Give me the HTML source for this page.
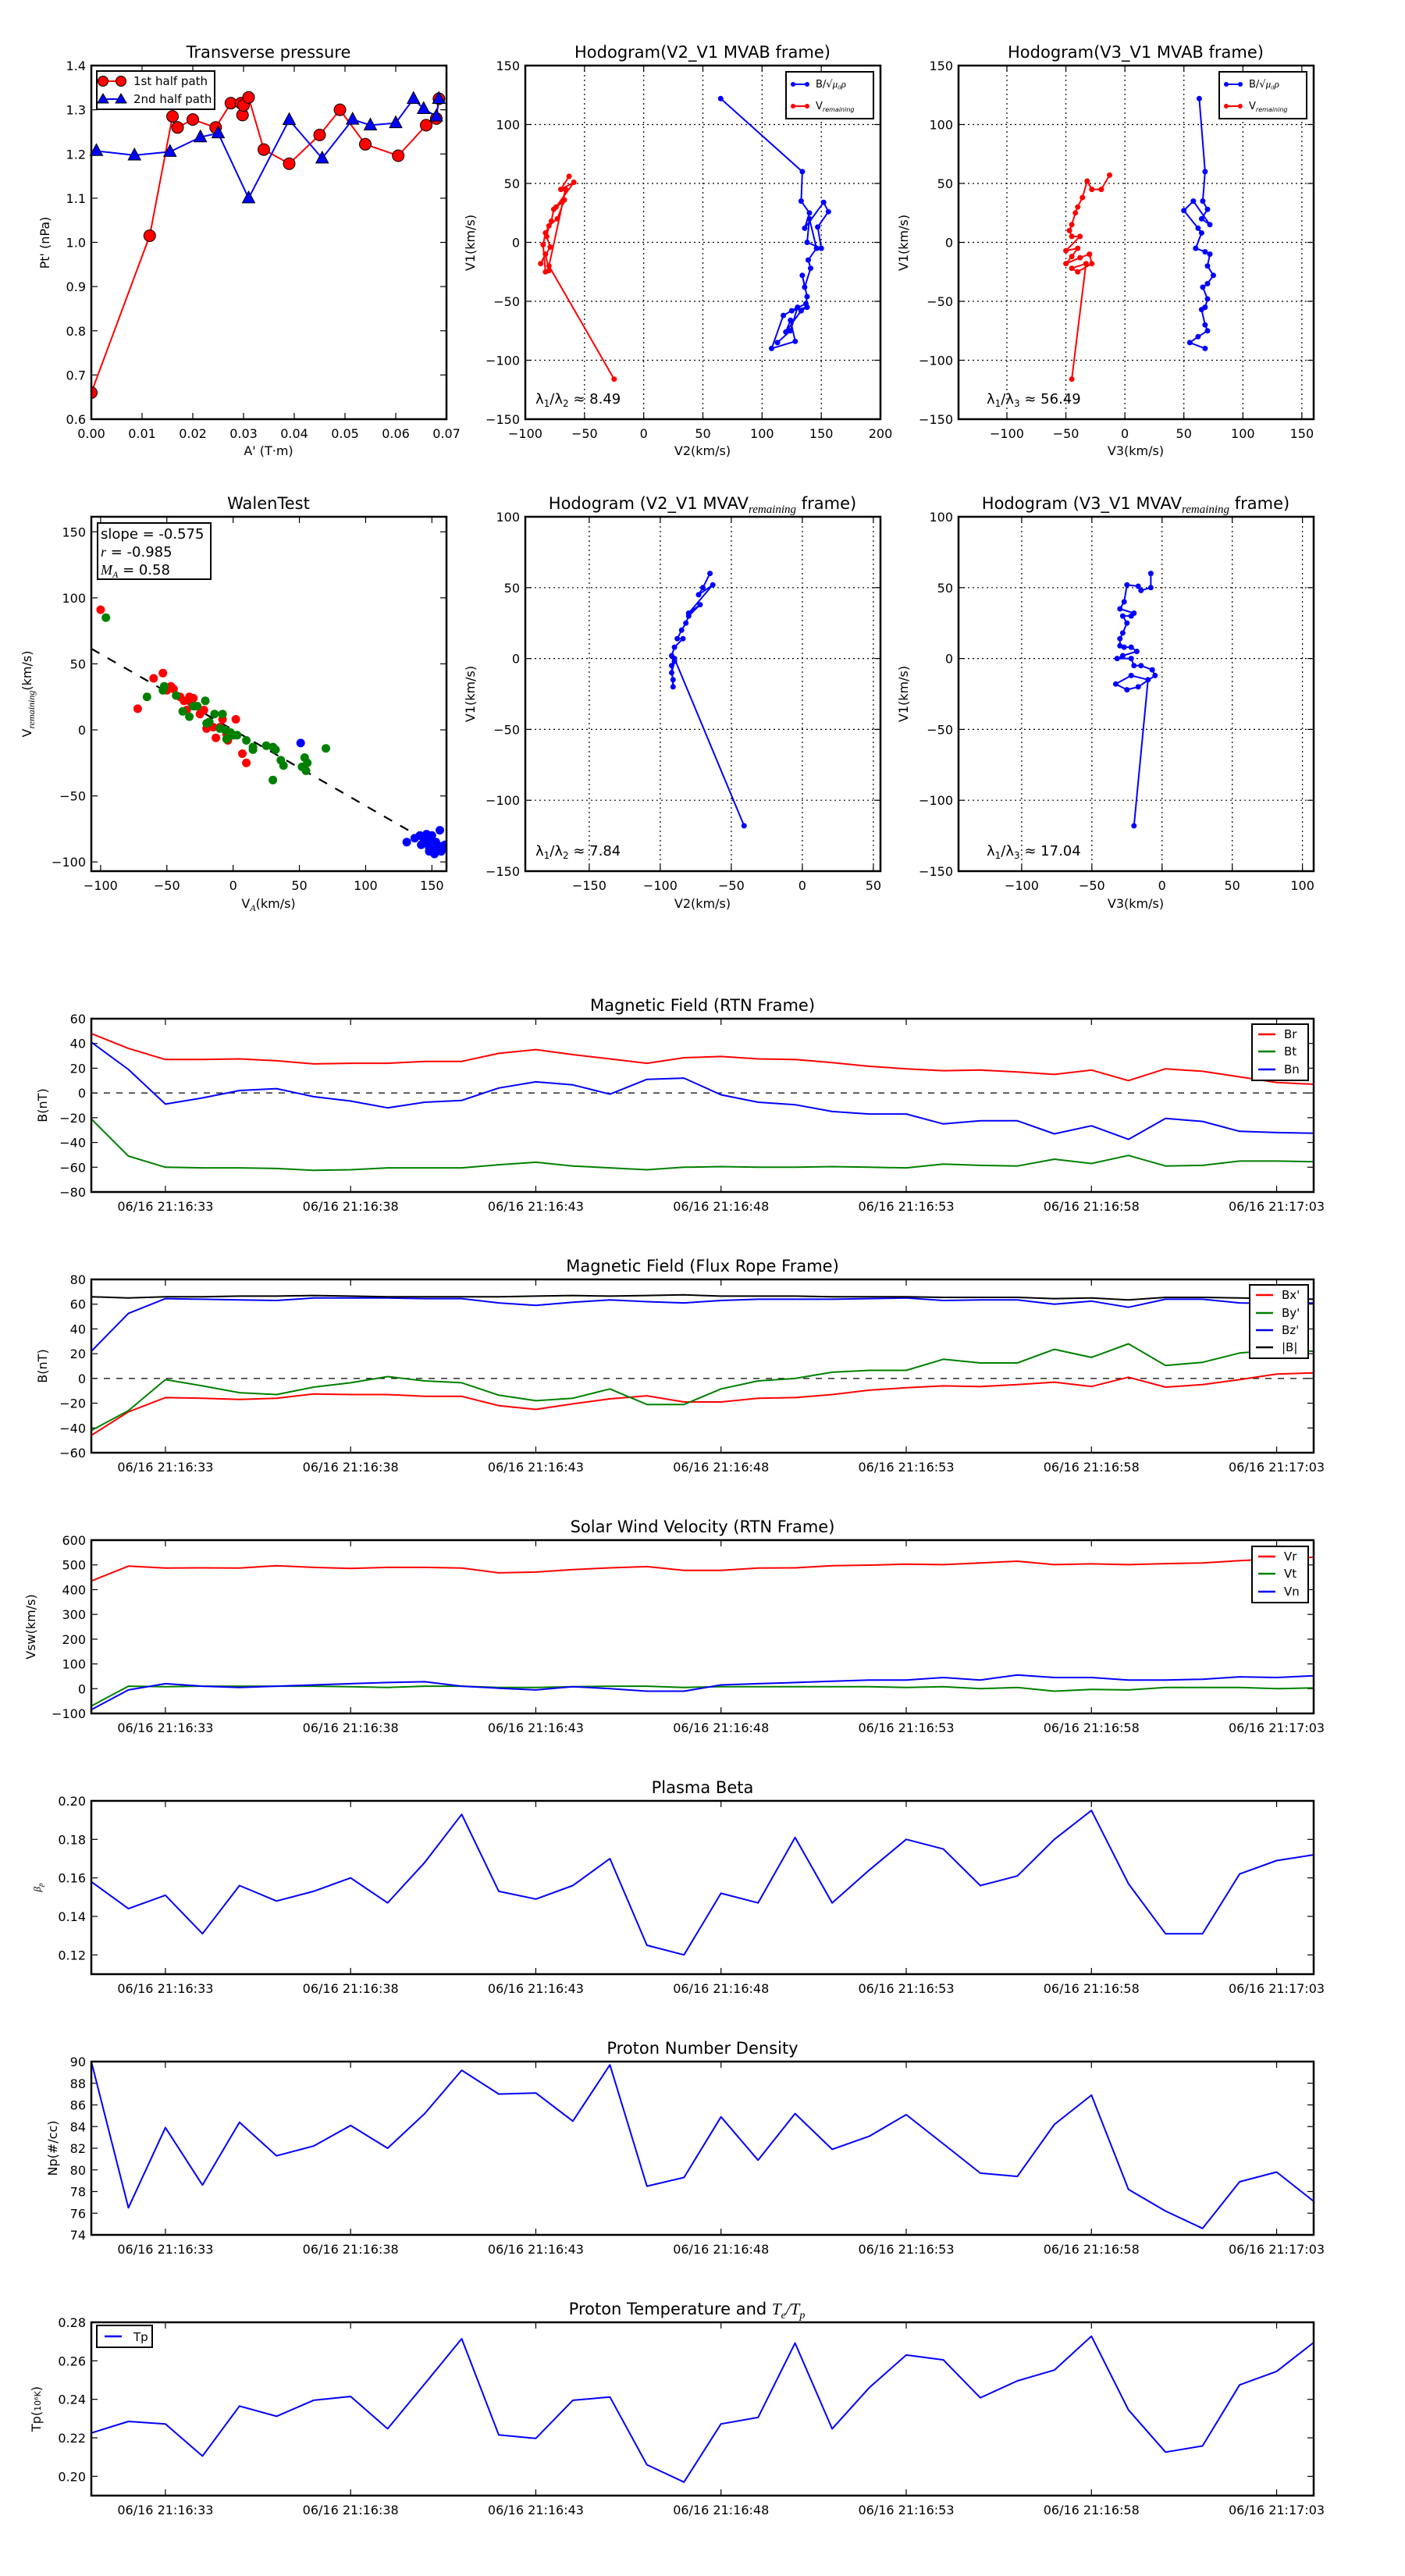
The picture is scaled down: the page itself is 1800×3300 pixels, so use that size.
<!DOCTYPE html>
<html><head><meta charset="utf-8">
<style>
html,body{margin:0;padding:0;background:#fff;}
svg{display:block;font-family:"DejaVu Sans","Liberation Sans",sans-serif;}
</style></head>
<body>
<svg id="s" xmlns="http://www.w3.org/2000/svg" width="1800" height="3300" viewBox="0 0 1800 3300">
<rect width="1800" height="3300" fill="#fff"/>
<g id="g"></g>
<!-- static text -->
<g font-size="21" text-anchor="middle" fill="#000">
<text x="344" y="74">Transverse pressure</text>
<text x="900" y="74">Hodogram(V2_V1 MVAB frame)</text>
<text x="1455" y="74">Hodogram(V3_V1 MVAB frame)</text>
<text x="344" y="652">WalenTest</text>
<text x="900" y="652">Hodogram (V2_V1 MVAV<tspan font-style="italic" font-family="Liberation Serif,serif" font-size="15" dy="5">remaining</tspan><tspan dy="-5"> frame)</tspan></text>
<text x="1455" y="652">Hodogram (V3_V1 MVAV<tspan font-style="italic" font-family="Liberation Serif,serif" font-size="15" dy="5">remaining</tspan><tspan dy="-5"> frame)</tspan></text>
<text x="900" y="1295">Magnetic Field (RTN Frame)</text>
<text x="900" y="1629">Magnetic Field (Flux Rope Frame)</text>
<text x="900" y="1963">Solar Wind Velocity (RTN Frame)</text>
<text x="900" y="2297">Plasma Beta</text>
<text x="900" y="2631">Proton Number Density</text>
<text x="880" y="2965">Proton Temperature and <tspan font-style="italic" font-family="Liberation Serif,serif">T</tspan><tspan font-style="italic" font-family="Liberation Serif,serif" font-size="14" dy="5">e</tspan><tspan font-style="italic" font-family="Liberation Serif,serif" dy="-5">/T</tspan><tspan font-style="italic" font-family="Liberation Serif,serif" font-size="14" dy="5">p</tspan></text>
</g>
<g font-size="16" text-anchor="middle" fill="#000">
<text x="344" y="583">A' (T·m)</text>
<text x="900" y="583">V2(km/s)</text>
<text x="1455" y="583">V3(km/s)</text>
<text x="344" y="1163">V<tspan font-style="italic" font-family="Liberation Serif,serif" font-size="12" dy="4">A</tspan><tspan dy="-4">(km/s)</tspan></text>
<text x="900" y="1163">V2(km/s)</text>
<text x="1455" y="1163">V3(km/s)</text>
<text transform="translate(63,311) rotate(-90)">Pt' (nPa)</text>
<text transform="translate(608,311) rotate(-90)">V1(km/s)</text>
<text transform="translate(1163,311) rotate(-90)">V1(km/s)</text>
<text transform="translate(40,889) rotate(-90)">V<tspan font-style="italic" font-family="Liberation Serif,serif" font-size="12" dy="4">remaining</tspan><tspan dy="-4">(km/s)</tspan></text>
<text transform="translate(608,889) rotate(-90)">V1(km/s)</text>
<text transform="translate(1163,889) rotate(-90)">V1(km/s)</text>
<text transform="translate(60,1416) rotate(-90)">B(nT)</text>
<text transform="translate(60,1750) rotate(-90)">B(nT)</text>
<text transform="translate(45,2084) rotate(-90)">Vsw(km/s)</text>
<text transform="translate(52,2418) rotate(-90)" font-style="italic" font-family="Liberation Serif,serif" font-size="13">β<tspan font-size="9" dy="3">p</tspan></text>
<text transform="translate(73,2752) rotate(-90)">Np(#/cc)</text>
<text transform="translate(52,3086) rotate(-90)">Tp(<tspan font-size="11">10⁶K</tspan>)</text>
</g>
<!-- text boxes -->
<g font-size="18" fill="#000">
<text x="686" y="517">λ<tspan font-size="12" dy="4">1</tspan><tspan dy="-4">/λ</tspan><tspan font-size="12" dy="4">2</tspan><tspan dy="-4"> ≈ 8.49</tspan></text>
<text x="1264" y="517">λ<tspan font-size="12" dy="4">1</tspan><tspan dy="-4">/λ</tspan><tspan font-size="12" dy="4">3</tspan><tspan dy="-4"> ≈ 56.49</tspan></text>
<text x="686" y="1096">λ<tspan font-size="12" dy="4">1</tspan><tspan dy="-4">/λ</tspan><tspan font-size="12" dy="4">2</tspan><tspan dy="-4"> ≈ 7.84</tspan></text>
<text x="1264" y="1096">λ<tspan font-size="12" dy="4">1</tspan><tspan dy="-4">/λ</tspan><tspan font-size="12" dy="4">3</tspan><tspan dy="-4"> ≈ 17.04</tspan></text>
</g>
<rect x="125" y="670" width="145" height="72" fill="#fff" stroke="#000" stroke-width="2"/>
<g font-size="18" fill="#000">
<text x="129" y="690">slope = -0.575</text>
<text x="129" y="713"><tspan font-style="italic" font-family="Liberation Serif,serif">r</tspan> = -0.985</text>
<text x="129" y="736"><tspan font-style="italic" font-family="Liberation Serif,serif">M</tspan><tspan font-style="italic" font-family="Liberation Serif,serif" font-size="12" dy="4">A</tspan><tspan dy="-4"> = 0.58</tspan></text>
</g>
<g id="leg"></g>
</svg>
<script>
var G=document.getElementById('g'),out='';
function P(L,T,W,H,xa,xb,ya,yb){return{L:L,T:T,W:W,H:H,fx:function(v){return L+(v-xa)/(xb-xa)*W},fy:function(v){return T+H-(v-ya)/(yb-ya)*H}};}
var cid=0;
function axes(p,xt,yt,o){o=o||{};var s='';
 cid++;s+='<clipPath id="c'+cid+'"><rect x="'+p.L+'" y="'+p.T+'" width="'+p.W+'" height="'+p.H+'"/></clipPath>';
 xt.forEach(function(t){var x=p.fx(t[0]);if(o.grid)s+='<line x1="'+x+'" y1="'+p.T+'" x2="'+x+'" y2="'+(p.T+p.H)+'" stroke="#000" stroke-width="1.2" stroke-dasharray="2,4"/>';
  s+='<line x1="'+x+'" y1="'+(p.T+p.H)+'" x2="'+x+'" y2="'+(p.T+p.H-8)+'" stroke="#000" stroke-width="1.2"/><line x1="'+x+'" y1="'+p.T+'" x2="'+x+'" y2="'+(p.T+8)+'" stroke="#000" stroke-width="1.2"/>';
  s+='<text x="'+x+'" y="'+(p.T+p.H+(o.xly||24))+'" font-size="16" text-anchor="middle">'+t[1]+'</text>';});
 yt.forEach(function(t){var y=p.fy(t[0]);if(o.grid)s+='<line x1="'+p.L+'" y1="'+y+'" x2="'+(p.L+p.W)+'" y2="'+y+'" stroke="#000" stroke-width="1.2" stroke-dasharray="2,4"/>';
  s+='<line x1="'+p.L+'" y1="'+y+'" x2="'+(p.L+8)+'" y2="'+y+'" stroke="#000" stroke-width="1.2"/><line x1="'+(p.L+p.W)+'" y1="'+y+'" x2="'+(p.L+p.W-8)+'" y2="'+y+'" stroke="#000" stroke-width="1.2"/>';
  s+='<text x="'+(p.L-7)+'" y="'+(y+6)+'" font-size="16" text-anchor="end">'+t[1]+'</text>';});
 p.clip='c'+cid;out+=s;}
function frame(p){out+='<rect x="'+p.L+'" y="'+p.T+'" width="'+p.W+'" height="'+p.H+'" fill="none" stroke="#000" stroke-width="2.5"/>';}
function line(p,pts,c,w,dash){var d=pts.map(function(q,i){return(i?'L':'M')+p.fx(q[0]).toFixed(1)+' '+p.fy(q[1]).toFixed(1)}).join('');
 out+='<path clip-path="url(#'+p.clip+')" d="'+d+'" fill="none" stroke="'+c+'" stroke-width="'+(w||2)+'"'+(dash?' stroke-dasharray="'+dash+'"':'')+' stroke-linejoin="round"/>';}
function dots(p,pts,c,r,st){var s='<g clip-path="url(#'+p.clip+')">';pts.forEach(function(q){s+='<circle cx="'+p.fx(q[0]).toFixed(1)+'" cy="'+p.fy(q[1]).toFixed(1)+'" r="'+r+'" fill="'+c+'"'+(st?' stroke="#000" stroke-width="1"':'')+'/>'});out+=s+'</g>';}
function tris(p,pts,c){var s='';pts.forEach(function(q){var x=p.fx(q[0]),y=p.fy(q[1]);s+='<path d="M'+x+' '+(y-9)+'L'+(x+8)+' '+(y+6)+'L'+(x-8)+' '+(y+6)+'Z" fill="'+c+'" stroke="#000" stroke-width="1"/>'});out+=s;}
function ts(a){return a.map(function(v,i){return[i,v]})}
function rng(a,b,s,f){var r=[];for(var v=a;v<=b+1e-9;v+=s){var l=f?v.toFixed(f):String(Math.round(v));r.push([v,l.replace('-','\u2212')])}return r;}

// Top-left
var p=P(117,84,455,453,0,0.07,0.6,1.4);
axes(p,rng(0,0.07,0.01,2),rng(0.6,1.4,0.1,1));
var red=[[0,0.66],[0.0115,1.015],[0.016,1.285],[0.017,1.26],[0.020,1.278],[0.0245,1.26],[0.0275,1.315],[0.0295,1.315],[0.0298,1.288],[0.030,1.31],[0.031,1.328],[0.034,1.21],[0.039,1.178],[0.045,1.243],[0.049,1.30],[0.054,1.222],[0.0605,1.196],[0.066,1.265],[0.068,1.28],[0.0685,1.325]];
var blu=[[0.001,1.207],[0.0085,1.197],[0.0155,1.205],[0.0215,1.238],[0.025,1.247],[0.031,1.10],[0.039,1.277],[0.0455,1.19],[0.0515,1.278],[0.055,1.265],[0.060,1.27],[0.0635,1.325],[0.0655,1.302],[0.068,1.285],[0.0685,1.325]];
line(p,red,'#f00',2);line(p,blu,'#00f',2);dots(p,red,'#f00',7.5,1);tris(p,blu,'#00f');frame(p);

// Hodogram 1
p=P(673,84,455,453,-100,200,-150,150);
axes(p,rng(-100,200,50),rng(-150,150,50),{grid:1});
var hb=[[65,122],[134,60],[133,35],[140,25],[136,12],[152,34],[156,26],[147,13],[150,-5],[138,0],[140,20],[146,-5],[139,-15],[141,-22],[136,-38],[134,-28],[138,-46],[137,-52],[125,-58],[138,-55],[133,-58],[120,-76],[124,-66],[128,-84],[108,-90],[118,-62],[130,-55],[124,-75],[113,-85]];
var hr=[[-63,56],[-70,45],[-59,51],[-74,30],[-67,36],[-73,20],[-80,14],[-82,5],[-79,-4],[-87,-18],[-83,-10],[-80,-24],[-83,-25],[-85,-2],[-83,8],[-78,18],[-76,28],[-69,34],[-66,45],[-80,-20],[-25,-116]];
line(p,hb,'#00f',2);dots(p,hb,'#00f',3.5);line(p,hr,'#f00',2);dots(p,hr,'#f00',3.5);frame(p);

// Hodogram 2
p=P(1228,84,455,453,-141,160,-150,150);
axes(p,rng(-100,150,50),rng(-150,150,50),{grid:1});
var h2b=[[63,122],[68,60],[66,35],[70,28],[65,20],[72,15],[58,35],[50,27],[62,12],[65,8],[60,-5],[68,-8],[72,-10],[70,-20],[75,-28],[70,-35],[66,-38],[70,-48],[68,-55],[65,-57],[68,-70],[70,-75],[62,-80],[55,-85],[68,-90]];
var h2r=[[-13,57],[-20,45],[-28,45],[-32,52],[-36,38],[-40,30],[-42,25],[-45,15],[-47,10],[-45,5],[-38,5],[-50,-7],[-40,-5],[-45,-12],[-50,-18],[-38,-13],[-30,-10],[-28,-18],[-40,-25],[-45,-22],[-33,-18],[-45,-116]];
line(p,h2b,'#00f',2);dots(p,h2b,'#00f',3.5);line(p,h2r,'#f00',2);dots(p,h2r,'#f00',3.5);frame(p);

// Walen
p=P(117,662,455,454,-107,161,-107,161.4);
axes(p,rng(-100,150,50),rng(-100,150,50));
line(p,[[-107,61.5],[161,-92.6]],'#000',2.2,'12,12');
dots(p,[[-100,91],[-72,16],[-60,39],[-53,43],[-50,30],[-47,33],[-45,31],[-40,25],[-37,22],[-32,21],[-33,25],[-30,24],[-25,12],[-22,15],[-18,5],[-15,2],[-13,-6],[-8,8],[-5,-3],[-4,-8],[2,8],[7,-18],[10,-25],[-20,1],[-10,2],[-35,15],[-28,18]],'#f00',5.5);
dots(p,[[-96,85],[-65,25],[-52,33],[-53,30],[-43,26],[-38,14],[-33,10],[-30,18],[-27,18],[-21,22],[-20,5],[-18,6],[-14,12],[-10,1],[-8,12],[-6,0],[-2,-2],[-5,-7],[0,-4],[3,-4],[10,-8],[15,-13],[15,-15],[25,-12],[30,-38],[30,-13],[32,-15],[36,-23],[38,-27],[52,-28],[54,-21],[55,-31],[56,-25],[70,-14]],'#008000',5.5);
dots(p,[[51,-10],[131,-85],[137,-82],[141,-80],[142,-87],[145,-84],[146,-79],[147,-85],[148,-89],[149,-83],[150,-80],[150,-91],[152,-94],[153,-85],[154,-90],[155,-88],[156,-76],[157,-92],[158,-88],[159,-90],[160,-87],[144,-83],[148,-92]],'#00f',5.5);
frame(p);

// Hodogram 3
p=P(673,662,455,454,-195,55,-150,100);
axes(p,rng(-150,50,50),rng(-150,100,50),{grid:1});
var h3=[[-65,60],[-70,50],[-73,45],[-63,52],[-80,32],[-72,38],[-80,30],[-82,25],[-85,20],[-88,14],[-84,14],[-90,8],[-92,2],[-90,-2],[-92,-10],[-91,-15],[-91,-20],[-92,-5],[-90,0],[-41,-118]];
line(p,h3,'#00f',2);dots(p,h3,'#00f',3.5);frame(p);

// Hodogram 4
p=P(1228,662,455,454,-145,108,-150,100);
axes(p,rng(-100,100,50),rng(-150,100,50),{grid:1});
var h4=[[-8,60],[-8,50],[-15,48],[-17,51],[-25,52],[-27,40],[-30,35],[-20,32],[-22,30],[-28,30],[-25,25],[-28,18],[-30,14],[-30,9],[-27,8],[-22,8],[-18,5],[-28,2],[-32,0],[-22,0],[-20,-5],[-15,-5],[-7,-8],[-5,-12],[-17,-20],[-25,-22],[-33,-18],[-22,-12],[-10,-15],[-20,-118]];
line(p,h4,'#00f',2);dots(p,h4,'#00f',3.5);frame(p);

// Time series
var TL=[[2,'06/16 21:16:33'],[7,'06/16 21:16:38'],[12,'06/16 21:16:43'],[17,'06/16 21:16:48'],[22,'06/16 21:16:53'],[27,'06/16 21:16:58'],[32,'06/16 21:17:03']];
var tops=[1305,1639,1973,2307,2641,2975];
function tp(i,ya,yb){return P(117,tops[i],1566,222,0,33,ya,yb)}
// 1
p=tp(0,-80,60);axes(p,TL,rng(-80,60,20));line(p,[[0,0],[33,0]],'#000',1.2,'8,8');
line(p,ts([48,36,27,27,27.5,26,23.5,24,24,25.5,25.5,32,35,31,27.5,24,28.5,29.5,27.5,27,24.5,21.5,19.5,18,18.5,17,15,18.5,10,19.5,17.5,13,8.5,7]),'#f00');
line(p,ts([-21,-51,-60,-60.5,-60.5,-61,-62.5,-62,-60.5,-60.5,-60.5,-58,-56,-59,-60.5,-62,-60,-59.5,-60,-60,-59.5,-60,-60.5,-57.5,-58.5,-59,-53.5,-57,-50.5,-59,-58.5,-55,-55,-55.5]),'#008000');
line(p,ts([41,19,-9,-4,2,3.5,-3,-6.5,-12,-7.5,-6,4,9,6.5,-1,11,12,-1.5,-7.5,-9.5,-15,-17,-17,-25,-22.5,-22.5,-33,-26.5,-37.5,-20.5,-23,-31,-32,-32.5]),'#00f');
frame(p);
// 2
p=tp(1,-60,80);axes(p,TL,rng(-60,80,20));line(p,[[0,0],[33,0]],'#000',1.2,'8,8');
line(p,ts([-46,-27,-15.5,-16,-17,-16,-12.5,-13,-13,-14.5,-14.5,-22,-25,-20.5,-16.5,-14,-19,-19,-16,-15.5,-13,-9.5,-7.5,-6,-6.5,-5,-3,-6.5,1,-7,-5,-1,3.5,4.5]),'#f00');
line(p,ts([-42,-26,-1,-6,-11.5,-13,-7,-3.5,1.5,-2,-3.5,-13.5,-18,-16,-8.5,-21,-21,-8.5,-2,0,5,6.5,6.5,15.5,12.5,12.5,23.5,17,28,10.5,13,20.5,23,22]),'#008000');
line(p,ts([22,52.5,64.5,64,63.5,63,65,65,65,64.5,64.5,61,59,61.5,63.5,62,61,63,64,64,64,64.5,65,63,63.5,63.5,60,62.5,57.5,64,64,61,60.5,61]),'#00f');
line(p,ts([66,65,66,66,66.5,66.5,67,66.5,66,66,66,66,66.5,67,66.5,67,67.5,66.5,66.5,66.5,66,66,66,65.5,65.5,65.5,64.5,65,63.5,65.5,65.5,65,64.5,64]),'#000');
frame(p);
// 3
p=tp(2,-100,600);axes(p,TL,rng(-100,600,100));
line(p,ts([435,495,487,488,487,497,490,486,490,490,487,468,471,481,488,493,478,478,487,488,497,499,503,501,508,515,501,504,501,505,508,517,524,531]),'#f00');
line(p,ts([-70,10,8,10,10,10,10,8,5,10,10,5,5,8,10,10,5,8,8,8,8,8,5,8,0,5,-10,-3,-5,5,5,5,0,3]),'#008000');
line(p,ts([-85,-5,20,10,5,10,15,20,25,28,10,2,-5,8,0,-10,-10,15,20,25,30,35,35,45,35,55,45,45,35,35,38,48,45,52]),'#00f');
frame(p);
// 4
p=tp(3,0.11,0.20);axes(p,TL,rng(0.12,0.20,0.02,2));
line(p,ts([.158,.144,.151,.131,.156,.148,.153,.160,.147,.168,.193,.153,.149,.156,.170,.125,.120,.152,.147,.181,.147,.164,.180,.175,.156,.161,.180,.195,.157,.131,.131,.162,.169,.172]),'#00f');frame(p);
// 5
p=tp(4,74,90);axes(p,TL,rng(74,90,2));
line(p,ts([90,76.5,83.9,78.6,84.4,81.3,82.2,84.1,82,85.2,89.2,87,87.1,84.5,89.7,78.5,79.3,84.9,80.9,85.2,81.9,83.1,85.1,82.4,79.7,79.4,84.2,86.9,78.2,76.2,74.6,78.9,79.8,77.1]),'#00f');frame(p);
// 6
p=tp(5,0.19,0.28);axes(p,TL,rng(0.20,0.28,0.02,2));
line(p,ts([.2225,.2285,.2272,.2105,.2365,.2312,.2395,.2415,.2247,.248,.2715,.2215,.2197,.2395,.2412,.206,.197,.2272,.2306,.2692,.2247,.246,.263,.2605,.2408,.2496,.2552,.2728,.2345,.2126,.2158,.2475,.2545,.2695]),'#00f');frame(p);
G.innerHTML=out;
</script>
<!-- legends -->
<svg style="position:absolute;left:0;top:0" width="1800" height="3300" xmlns="http://www.w3.org/2000/svg">
<g font-family="DejaVu Sans,Liberation Sans,sans-serif" font-size="15" fill="#000">
<rect x="124" y="91" width="151" height="49" fill="#fff" stroke="#000" stroke-width="2"/>
<line x1="132" y1="104" x2="155" y2="104" stroke="#f00" stroke-width="2"/><circle cx="132" cy="104" r="6.5" fill="#f00" stroke="#000"/><circle cx="155" cy="104" r="6.5" fill="#f00" stroke="#000"/>
<text x="171" y="109">1st half path</text>
<line x1="132" y1="127" x2="155" y2="127" stroke="#00f" stroke-width="2"/><path d="M132 120L139 132L125 132Z M155 120L162 132L148 132Z" fill="#00f" stroke="#000"/>
<text x="171" y="132">2nd half path</text>
<rect x="1007" y="92" width="112" height="60" fill="#fff" stroke="#000" stroke-width="2"/>
<line x1="1014" y1="108" x2="1036" y2="108" stroke="#00f" stroke-width="2"/><circle cx="1016" cy="108" r="3" fill="#00f"/><circle cx="1034" cy="108" r="3" fill="#00f"/>
<text x="1045" y="112" font-size="13">B/√<tspan font-style="italic" font-family="Liberation Serif,serif">μ₀ρ</tspan></text>
<line x1="1014" y1="136" x2="1036" y2="136" stroke="#f00" stroke-width="2"/><circle cx="1016" cy="136" r="3" fill="#f00"/><circle cx="1034" cy="136" r="3" fill="#f00"/>
<text x="1045" y="140" font-size="13">V<tspan font-size="8" dy="3" font-style="italic">remaining</tspan></text>
<rect x="1562" y="92" width="112" height="60" fill="#fff" stroke="#000" stroke-width="2"/>
<line x1="1569" y1="108" x2="1591" y2="108" stroke="#00f" stroke-width="2"/><circle cx="1571" cy="108" r="3" fill="#00f"/><circle cx="1589" cy="108" r="3" fill="#00f"/>
<text x="1600" y="112" font-size="13">B/√<tspan font-style="italic" font-family="Liberation Serif,serif">μ₀ρ</tspan></text>
<line x1="1569" y1="136" x2="1591" y2="136" stroke="#f00" stroke-width="2"/><circle cx="1571" cy="136" r="3" fill="#f00"/><circle cx="1589" cy="136" r="3" fill="#f00"/>
<text x="1600" y="140" font-size="13">V<tspan font-size="8" dy="3" font-style="italic">remaining</tspan></text>
<rect x="1604" y="1312" width="72" height="72" fill="#fff" stroke="#000" stroke-width="2"/>
<line x1="1612" y1="1325" x2="1634" y2="1325" stroke="#f00" stroke-width="2.5"/><text x="1645" y="1330">Br</text>
<line x1="1612" y1="1347" x2="1634" y2="1347" stroke="#008000" stroke-width="2.5"/><text x="1645" y="1352">Bt</text>
<line x1="1612" y1="1370" x2="1634" y2="1370" stroke="#00f" stroke-width="2.5"/><text x="1645" y="1375">Bn</text>
<rect x="1601" y="1646" width="75" height="94" fill="#fff" stroke="#000" stroke-width="2"/>
<line x1="1609" y1="1659" x2="1631" y2="1659" stroke="#f00" stroke-width="2.5"/><text x="1642" y="1664">Bx'</text>
<line x1="1609" y1="1682" x2="1631" y2="1682" stroke="#008000" stroke-width="2.5"/><text x="1642" y="1687">By'</text>
<line x1="1609" y1="1704" x2="1631" y2="1704" stroke="#00f" stroke-width="2.5"/><text x="1642" y="1709">Bz'</text>
<line x1="1609" y1="1726" x2="1631" y2="1726" stroke="#000" stroke-width="2.5"/><text x="1642" y="1731">|B|</text>
<rect x="1604" y="1981" width="72" height="72" fill="#fff" stroke="#000" stroke-width="2"/>
<line x1="1612" y1="1994" x2="1634" y2="1994" stroke="#f00" stroke-width="2.5"/><text x="1645" y="1999">Vr</text>
<line x1="1612" y1="2016" x2="1634" y2="2016" stroke="#008000" stroke-width="2.5"/><text x="1645" y="2021">Vt</text>
<line x1="1612" y1="2039" x2="1634" y2="2039" stroke="#00f" stroke-width="2.5"/><text x="1645" y="2044">Vn</text>
<rect x="124" y="2979" width="71" height="28" fill="#fff" stroke="#000" stroke-width="2"/>
<line x1="134" y1="2993" x2="156" y2="2993" stroke="#00f" stroke-width="2.5"/><text x="171" y="2999">Tp</text>
</g>
</svg>
</body></html>
